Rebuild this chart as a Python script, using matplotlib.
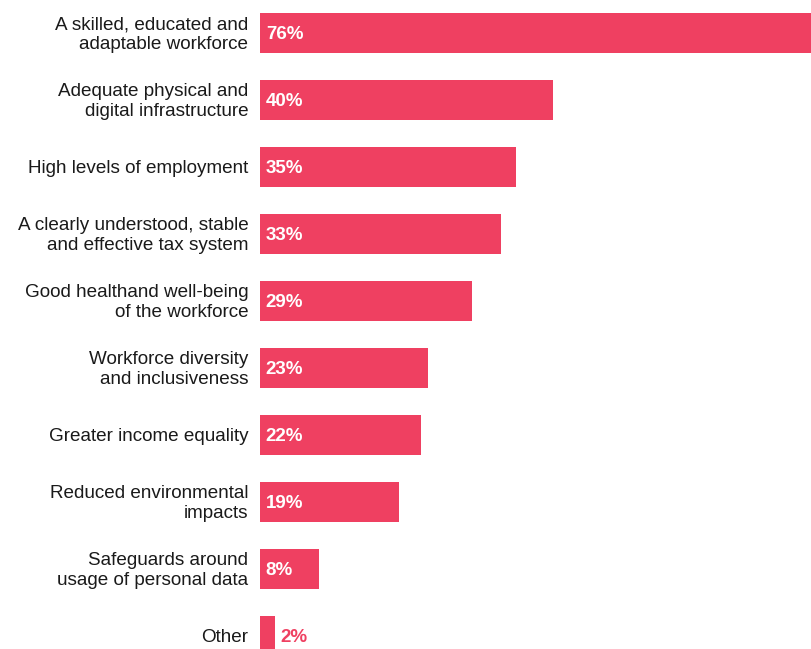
import matplotlib.pyplot as plt

# Survey answers, share of respondents (%)
categories = [
    "A skilled, educated and\nadaptable workforce",
    "Adequate physical and\ndigital infrastructure",
    "High levels of employment",
    "A clearly understood, stable\nand effective tax system",
    "Good healthand well-being\nof the workforce",
    "Workforce diversity\nand inclusiveness",
    "Greater income equality",
    "Reduced environmental\nimpacts",
    "Safeguards around\nusage of personal data",
    "Other",
]
values = [76, 40, 35, 33, 29, 23, 22, 19, 8, 2]

bar_color = "#EF4061"
plt.rcParams['font.family'] = ['Liberation Sans', 'DejaVu Sans']

fig = plt.figure(figsize=(8.11, 6.49), dpi=100)
ax = fig.add_axes([260 / 811, 0, 1 - 260 / 811, 1 - 13 / 649])

y = list(range(len(values)))
ax.barh(y, values, height=0.6, color=bar_color)
ax.set_xlim(0, 75.3)
ax.set_ylim(9.194, -0.3)

for yi, v, label in zip(y, values, categories):
    ax.text(-1.6, yi + 0.025, label, ha='right', va='center', fontsize=13.6,
            color='#1a1a1a', linespacing=1.2)
    if v >= 5:
        ax.text(0.8, yi + 0.02, f"{v}%", ha='left', va='center', fontsize=13.5,
                color='white', fontweight='bold')
    else:
        ax.text(v + 0.8, yi + 0.02, f"{v}%", ha='left', va='center', fontsize=13.5,
                color=bar_color, fontweight='bold')

ax.axis('off')
fig.savefig("out.png", dpi=100)
